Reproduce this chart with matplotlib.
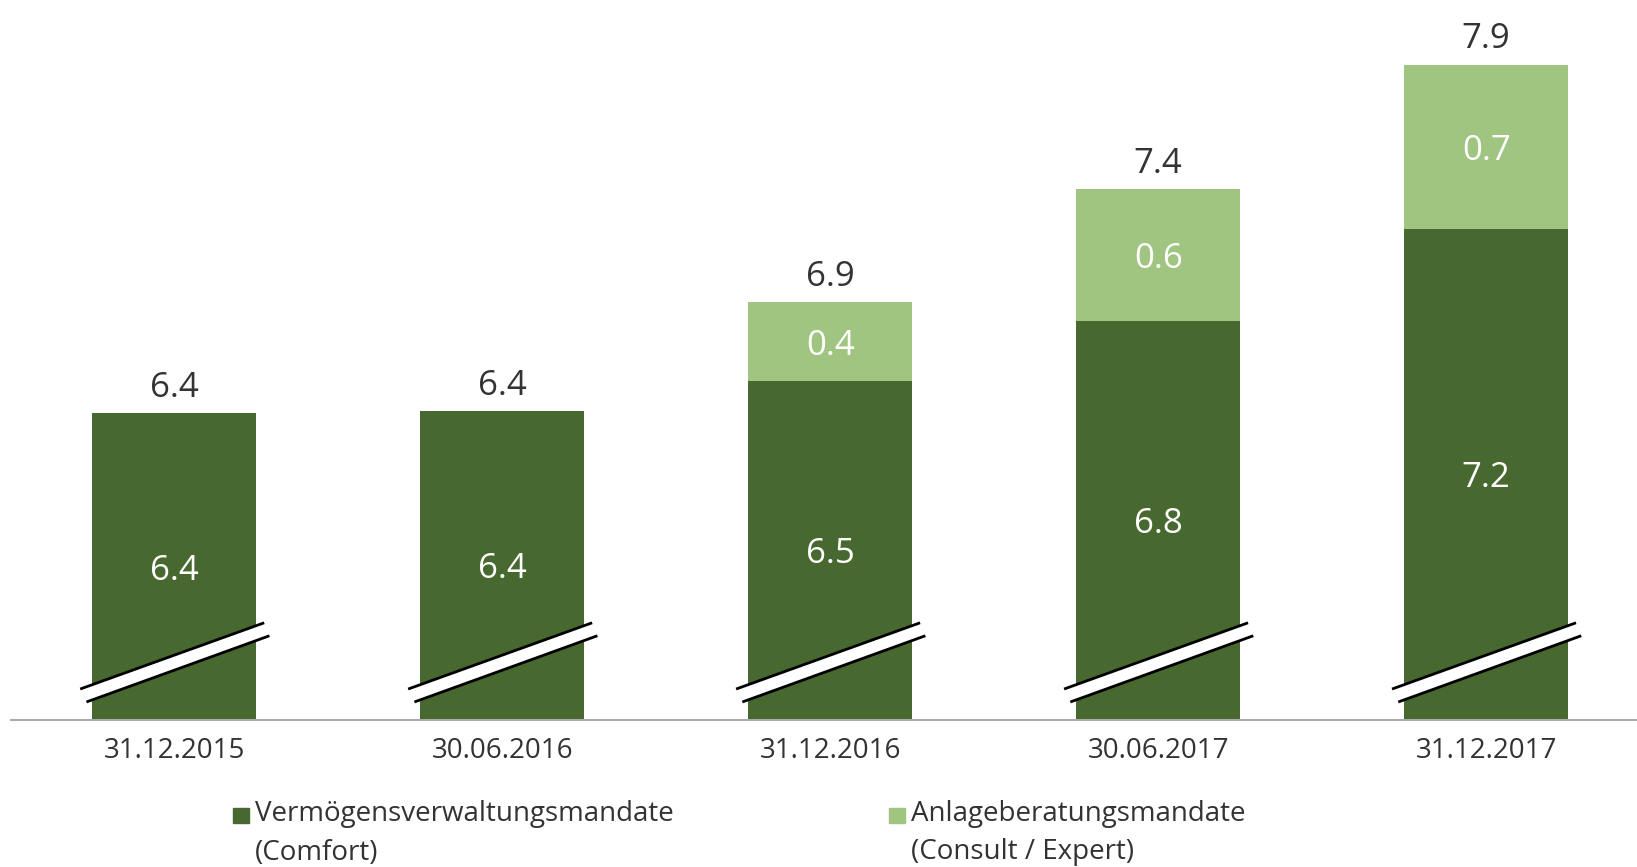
import matplotlib.pyplot as plt
from matplotlib.patches import Polygon, Rectangle

# values (axis is broken, so heights are estimated)
dates = ["31.12.2015", "30.06.2016", "31.12.2016", "30.06.2017", "31.12.2017"]
comfort = [6.40, 6.41, 6.54, 6.80, 7.20]
consult = [0.00, 0.00, 0.34, 0.57, 0.71]
comfort_labels = ["6.4", "6.4", "6.5", "6.8", "7.2"]
consult_labels = ["", "", "0.4", "0.6", "0.7"]
total_labels = ["6.4", "6.4", "6.9", "7.4", "7.9"]
legend_labels = ["Vermögensverwaltungsmandate\n(Comfort)",
                 "Anlageberatungsmandate\n(Consult / Expert)"]

dark = "#47682e"
light = "#a0c580"
txt = "#333333"
base = 5.07  # value at the broken baseline

plt.rcParams["font.family"] = ["Open Sans", "DejaVu Sans"]

fig = plt.figure(figsize=(16.37, 8.67), dpi=100)
ax = fig.add_axes([11 / 1637, 147 / 867, 1 - 11 / 1637, 720 / 867])

x = list(range(len(dates)))
bottoms = [base] * len(x)
h1 = [c - base for c in comfort]
ax.bar(x, h1, bottom=bottoms, width=0.5, color=dark)
ax.bar(x, consult, bottom=comfort, width=0.5, color=light)

for i in x:
    ax.text(i, (base + comfort[i]) / 2, comfort_labels[i], ha="center",
            va="center_baseline", color="white", fontsize=25)
    if consult[i] > 0:
        ax.text(i, comfort[i] + consult[i] / 2, consult_labels[i], ha="center",
                va="center_baseline", color="white", fontsize=25)
    ax.annotate(total_labels[i], (i, comfort[i] + consult[i]), xytext=(0, 6),
                textcoords="offset points", ha="center", va="bottom",
                color=txt, fontsize=25)

# break marks
tr = ax.get_xaxis_transform()
for i in x:
    band = Polygon([(i - 0.287, 0.043), (i + 0.274, 0.135),
                    (i + 0.29, 0.117), (i - 0.268, 0.025)],
                   closed=True, transform=tr, facecolor="white", edgecolor="none",
                   zorder=3)
    ax.add_patch(band)
    ax.plot([i - 0.287, i + 0.274], [0.043, 0.135], transform=tr, color="black",
            lw=2, zorder=4, solid_capstyle="butt")
    ax.plot([i - 0.268, i + 0.29], [0.025, 0.117], transform=tr, color="black",
            lw=2, zorder=4, solid_capstyle="butt")

ax.set_xlim(-0.498, 4.46)
ax.set_ylim(base, base + 720 / 230.7)
ax.set_xticks(x)
ax.set_xticklabels(dates, fontsize=20, color=txt)
ax.tick_params(axis="x", length=0, pad=12)
ax.set_yticks([])
for s in ["top", "right", "left"]:
    ax.spines[s].set_visible(False)
ax.spines["bottom"].set_color("#aaaaaa")
ax.spines["bottom"].set_linewidth(1.5)

# legend drawn by hand so the square lines up with the first line
for lab, col, sx in zip(legend_labels, [dark, light], [233, 889]):
    fig.patches.append(Rectangle((sx / 1637, 1 - 823 / 867), 16 / 1637, 15 / 867,
                                 transform=fig.transFigure, color=col))
    fig.text((sx + 22) / 1637, 1 - 800 / 867, lab, ha="left", va="top",
             fontsize=20, color=txt, linespacing=1.5)

fig.savefig("out.png", dpi=100)
